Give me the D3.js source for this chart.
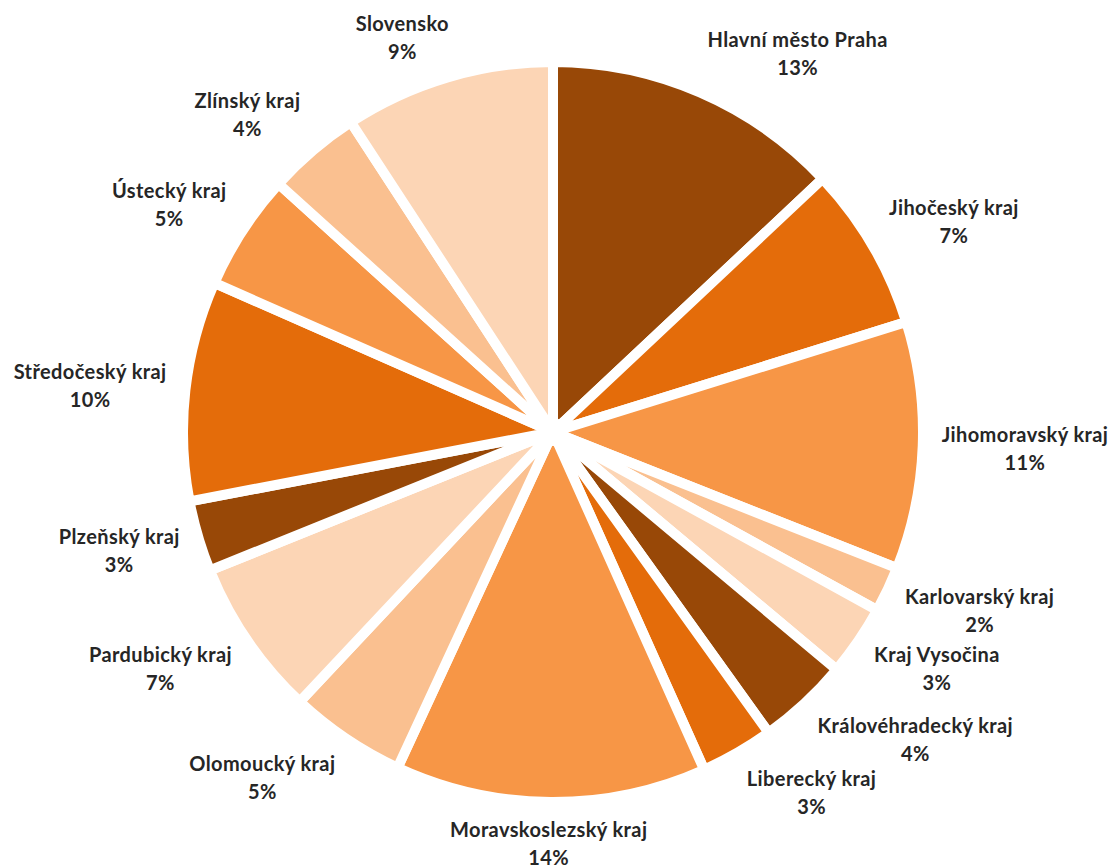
<!DOCTYPE html>
<html>
<head>
<meta charset="utf-8">
<script src="https://cdn.jsdelivr.net/npm/d3@7"></script>
<style>
  body { margin: 0; background: #fff; }
  svg text { font-family: Lato, "Open Sans", sans-serif; font-weight: bold; fill: #262626; letter-spacing: 0.4px; }
</style>
</head>
<body>
<svg id="chart" width="1115" height="866"></svg>
<script>
// regions, clockwise from 12 o'clock
var regions = ['Hlavní město Praha', 'Jihočeský kraj', 'Jihomoravský kraj', 'Karlovarský kraj',
    'Kraj Vysočina', 'Královéhradecký kraj', 'Liberecký kraj', 'Moravskoslezský kraj',
    'Olomoucký kraj', 'Pardubický kraj', 'Plzeňský kraj', 'Středočeský kraj',
    'Ústecký kraj', 'Zlínský kraj', 'Slovensko'];
// share in percent
var shares = [13.0, 7.2, 10.8, 2.0, 3.1, 4.0, 3.2, 13.6, 5.1, 6.9, 3.1, 9.6, 5.1, 4.1, 9.2];
var palette = ['#984807', '#E46C0A', '#F79646', '#FAC090', '#FCD5B5'];

var svg = d3.select('#chart');
var cx = 553, cy = 432, radius = 370;
var total = d3.sum(shares);

var data = regions.map(function (r, i) { return {name: r, value: shares[i], idx: i}; });

var pie = d3.pie().sort(null).value(function (d) { return d.value; });
var arc = d3.arc().innerRadius(0).outerRadius(radius);
var arcs = pie(data);

var g = svg.append('g').attr('transform', 'translate(' + cx + ',' + cy + ')');

g.selectAll('path.slice')
    .data(arcs)
    .enter()
    .append('path')
    .attr('class', 'slice')
    .attr('d', arc)
    .attr('fill', function (d) { return palette[d.data.idx % palette.length]; })
    .attr('stroke', '#fff')
    .attr('stroke-width', 10)
    .attr('stroke-linejoin', 'round');

// white hub where the gaps meet
g.append('circle').attr('r', 14).attr('fill', '#fff');

// labels: outside end, box corner touching the bisector just past the rim
var labelRx = radius - 5 + 24, labelRy = radius - 5 + 20;
var clamp = function (v) { return Math.max(-1, Math.min(1, v)); };

var labels = g.selectAll('g.lbl')
    .data(arcs)
    .enter()
    .append('g')
    .attr('class', 'lbl');

labels.append('text')
    .attr('text-anchor', 'middle')
    .style('font-size', '20px')
    .attr('y', -4)
    .text(function (d) { return d.data.name; });
labels.append('text')
    .attr('text-anchor', 'middle')
    .style('font-size', '20px')
    .attr('y', 24)
    .text(function (d) { return Math.round(d.data.value / total * 100) + '%'; });

labels.each(function (d) {
    var box = this.getBBox();
    var mid = (d.startAngle + d.endAngle) / 2;
    var ux = Math.sin(mid), uy = -Math.cos(mid);
    var px = ux * labelRx, py = uy * labelRy;
    var bx = px + box.width / 2 * clamp(3 * ux);
    var by = py + box.height / 2 * clamp(1.3 * uy);
    // shift so box centre lands at (bx, by)
    var ox = bx - (box.x + box.width / 2);
    var oy = by - (box.y + box.height / 2);
    d3.select(this).attr('transform', 'translate(' + ox + ',' + oy + ')');
});
</script>
</body>
</html>
